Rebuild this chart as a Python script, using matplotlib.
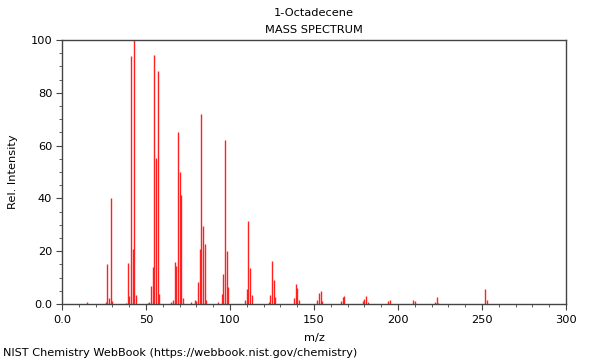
import matplotlib
matplotlib.use("Agg")
import matplotlib.pyplot as plt
from matplotlib.ticker import MultipleLocator, FuncFormatter

title_name = "1-Octadecene"
title_kind = "MASS SPECTRUM"
footer = "NIST Chemistry WebBook (https://webbook.nist.gov/chemistry)"

mz = [15, 26, 27, 28, 29, 30, 38, 39, 40, 41, 42, 43, 44,
      51, 52, 53, 54, 55, 56, 57, 58,
      65, 66, 67, 68, 69, 70, 71, 72,
      77, 79, 80, 81, 82, 83, 84, 85, 86,
      93, 95, 96, 97, 98, 99,
      109, 110, 111, 112, 113,
      123, 124, 125, 126, 127,
      138, 139, 140, 141,
      152, 153, 154, 155,
      166, 167, 168,
      179, 180, 181, 182,
      194, 195, 209, 210,
      222, 223, 224, 252, 253]
intensity = [0.7, 0.6, 15.3, 2.4, 40.1, 1.1, 0.5, 15.7, 3.1, 94.0, 20.8, 100.0, 3.4,
             0.5, 0.8, 6.8, 13.9, 94.3, 55.4, 88.4, 3.8,
             0.6, 1.5, 15.9, 14.4, 65.0, 50.0, 41.3, 2.4,
             0.6, 1.5, 1.0, 8.2, 20.7, 72.0, 29.6, 22.8, 1.5,
             0.8, 3.6, 11.4, 62.0, 20.0, 6.3,
             1.4, 5.6, 31.4, 13.5, 3.4,
             0.9, 3.3, 16.3, 9.2, 2.5,
             2.3, 7.5, 6.1, 1.5,
             1.5, 4.0, 4.8, 1.0,
             1.1, 2.6, 3.0,
             1.1, 1.9, 3.0, 0.9,
             1.1, 1.6, 1.5, 1.2,
             0.6, 2.5, 0.5, 5.7, 1.5]

x_ticks = [0, 50, 100, 150, 200, 250, 300]
y_ticks = [0, 20, 40, 60, 80, 100]

plt.rcParams['font.family'] = ['DejaVu Sans']
fig = plt.figure(figsize=(6, 3.6), dpi=100)
ax = fig.add_axes([62/600, 56/360, 504/600, 264/360])

ax.vlines(mz, 0, intensity, colors='#ff2020', linewidth=1.0)

ax.set_xlim(0, 300)
ax.set_ylim(0, 100)
ax.set_xticks(x_ticks)
ax.set_yticks(y_ticks)
ax.xaxis.set_minor_locator(MultipleLocator(10))
ax.yaxis.set_minor_locator(MultipleLocator(5))
ax.xaxis.set_major_formatter(FuncFormatter(lambda v, p: "0.0" if v == 0 else f"{v:g}"))
ax.yaxis.set_major_formatter(FuncFormatter(lambda v, p: "0.0" if v == 0 else f"{v:g}"))
ax.tick_params(which='major', direction='out', length=4, width=0.8, color='#444444', labelsize=8.2, pad=3)
ax.tick_params(axis='x', which='major', pad=4)
ax.tick_params(which='minor', direction='out', length=2, width=0.6, color='#444444')
for s in ax.spines.values():
    s.set_color('#444444')
    s.set_linewidth(1.0)

ax.set_xlabel("m/z", fontsize=8.2, labelpad=6)
ax.set_ylabel("Rel. Intensity", fontsize=8.2, labelpad=9)

fig.text(314/600, 1 - 13/360, title_name, ha='center', va='center', fontsize=8.2)
fig.text(314/600, 1 - 30/360, title_kind, ha='center', va='center', fontsize=8.2)
fig.text(3/600, 1 - 353/360, footer, ha='left', va='center', fontsize=8.1)

fig.savefig("out.png", dpi=100)
